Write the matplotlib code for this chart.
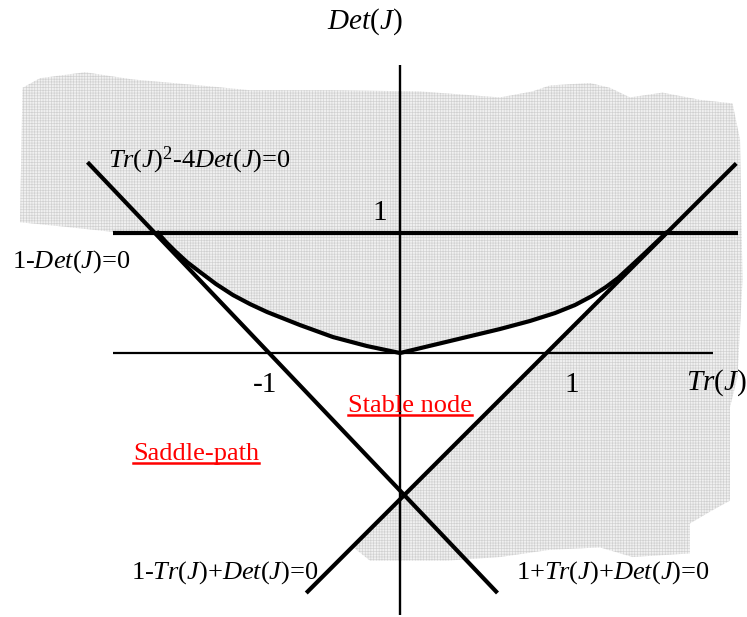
import numpy as np
import matplotlib
matplotlib.use("Agg")
from matplotlib import pyplot as plt
from matplotlib.lines import Line2D

plt.rcParams['font.family'] = ['Liberation Serif', 'DejaVu Serif']
plt.rcParams['mathtext.fontset'] = 'custom'
plt.rcParams['mathtext.rm'] = 'Liberation Serif'
plt.rcParams['mathtext.it'] = 'Liberation Serif:italic'
plt.rcParams['hatch.linewidth'] = 0.45

## the sketch, in Tr(J) / Det(J) units
det_one_tr = [-2.30, 2.70]          # 1-Det(J)=0
det_one_det = [1.0, 1.0]
xaxis_tr = [-2.30, 2.50]
xaxis_det = [0.0, 0.0]
yaxis_tr = [0.0, 0.0]
yaxis_det = [2.40, -2.18]
left_tr = [-2.50, 0.78]             # 1+Tr(J)+Det(J)=0
left_det = [1.59, -2.00]
right_tr = [2.69, -0.75]            # 1-Tr(J)+Det(J)=0
right_det = [1.58, -2.00]

# Tr(J)^2-4Det(J)=0 as it is drawn (hand sketch, kinked at the origin)
curve_tr = [-1.936, -1.872, -1.80, -1.704, -1.60, -1.472, -1.336, -1.20, -1.064,
            -0.80, -0.536, -0.264, 0.0,
            0.40, 0.80, 1.04, 1.24, 1.40, 1.536, 1.648, 1.744, 1.84, 1.96, 2.128]
curve_det = [1.000, 0.925, 0.85, 0.758, 0.675, 0.575, 0.483, 0.408, 0.342,
             0.233, 0.133, 0.058, 0.0,
             0.10, 0.20, 0.267, 0.333, 0.40, 0.475, 0.55, 0.625, 0.717, 0.833, 1.0]

# outline of the grey (unstable) patch
blob_tr = [-3.02, -2.88, -2.52, -2.14, -1.60, -1.20, -0.56, 0.16, 0.80, 1.06,
           1.20, 1.52, 1.68, 1.84, 2.10, 2.40, 2.66, 2.72, 2.74, 2.70, 2.64,
           2.64, 2.50, 2.32, 2.32, 1.86, 1.60, 1.20, 0.80, 0.38, -0.24, -0.36,
           -0.80, -2.30, -2.66, -3.04]
blob_det = [2.21, 2.29, 2.34, 2.28, 2.23, 2.19, 2.19, 2.18, 2.13, 2.18,
            2.23, 2.25, 2.21, 2.13, 2.17, 2.11, 2.08, 1.78, 0.61, -0.20, -0.45,
            -1.23, -1.31, -1.42, -1.67, -1.70, -1.62, -1.64, -1.70, -1.73, -1.73, -1.63,
            -0.98, 1.01, 1.05, 1.09]

## figure
fig = plt.figure(figsize=(7.47, 6.17), dpi=100)
ax = fig.add_axes([0, 0, 1, 1])
ax.set_xlim(-3.2, 2.776)
ax.set_ylim(-2.2, 2.942)
ax.axis('off')

# grey stippled patch
ax.fill(blob_tr, blob_det, facecolor='#f0f0f0', edgecolor='#d0d0d0',
        hatch='++++++', linewidth=0, zorder=0)

# stable region (below the curve, left of the right diagonal) stays white
white_tr = [-3.5] + curve_tr + [right_tr[1], -3.5]
white_det = [1.0] + curve_det + [right_det[1], right_det[1]]
ax.fill(white_tr, white_det, color='white', linewidth=0, zorder=1)

## the lines
ax.plot(det_one_tr, det_one_det, color='black', linewidth=3.0, solid_capstyle='butt', zorder=3)
ax.plot(xaxis_tr, xaxis_det, color='black', linewidth=1.6, solid_capstyle='butt', zorder=3)
ax.plot(yaxis_tr, yaxis_det, color='black', linewidth=1.7, solid_capstyle='butt', zorder=3)
ax.plot(left_tr, left_det, color='black', linewidth=3.0, solid_capstyle='butt', zorder=3)
ax.plot(right_tr, right_det, color='black', linewidth=3.0, solid_capstyle='butt', zorder=3)
ax.plot(curve_tr, curve_det, color='black', linewidth=3.0, solid_joinstyle='round', zorder=3)

## labels
fs = 19
ax.text(-0.28, 2.76, r'$Det$($J$)', fontsize=21, ha='center', va='center')
ax.text(-2.34, 1.61, r'$Tr$($J$)$^2$-4$Det$($J$)=0', fontsize=fs, ha='left', va='center')
ax.text(-3.10, 0.76, r'1-$Det$($J$)=0', fontsize=fs, ha='left', va='center')
ax.text(-0.16, 1.17, '1', fontsize=21, ha='center', va='center')
ax.text(-1.08, -0.27, '-1', fontsize=21, ha='center', va='center')
ax.text(1.376, -0.27, '1', fontsize=21, ha='center', va='center')
ax.text(2.29, -0.25, r'$Tr$($J$)', fontsize=21, ha='left', va='center')
ax.text(-2.15, -1.83, r'1-$Tr$($J$)+$Det$($J$)=0', fontsize=fs, ha='left', va='center')
ax.text(0.93, -1.83, r'1+$Tr$($J$)+$Det$($J$)=0', fontsize=fs, ha='left', va='center')

t_stable = ax.text(0.08, -0.49, 'Stable node', fontsize=fs, color='red', ha='center', va='baseline')
t_saddle = ax.text(-1.63, -0.89, 'Saddle-path', fontsize=fs, color='red', ha='center', va='baseline')

## underline the two red labels
fig.canvas.draw()
for t in (t_stable, t_saddle):
    bb = t.get_window_extent()
    y_base = ax.transData.transform(t.get_position())[1] - 3
    (x0, y0), (x1, _) = fig.transFigure.inverted().transform([(bb.x0, y_base), (bb.x1, y_base)])
    fig.add_artist(Line2D([x0, x1], [y0, y0], color='red', linewidth=1.8))

fig.savefig('out.png', dpi=100)
